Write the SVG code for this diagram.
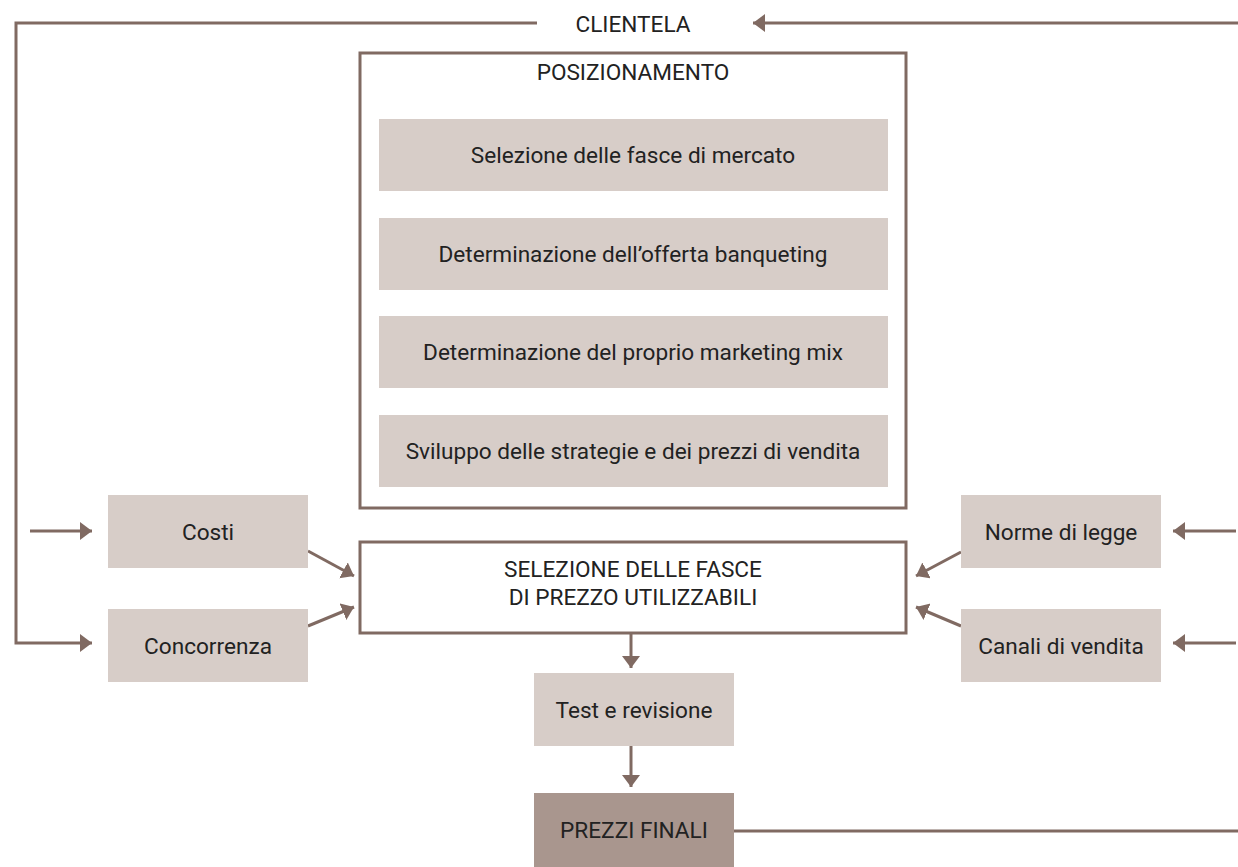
<svg xmlns="http://www.w3.org/2000/svg" width="1238" height="867" viewBox="0 0 1238 867">
<defs>
<style>
.t{font-family:Roboto,"Liberation Sans",sans-serif;font-size:22.6px;font-weight:400;fill:#222222;text-anchor:middle}
.lb{fill:#d7cdc8}
.dk{fill:#a9968e}
.fr{fill:#ffffff;stroke:#806a62;stroke-width:3}
.ln{fill:none;stroke:#806a62;stroke-width:3}
</style>
<marker id="ah" markerUnits="userSpaceOnUse" markerWidth="14" markerHeight="20" refX="12" refY="9" orient="auto">
<path d="M0,0 L12,9 L0,18 Z" fill="#806a62"/>
</marker>
</defs>
<rect width="1238" height="867" fill="#ffffff"/>

<g id="connectors">
<polyline class="ln" points="537,23 16,23 16,643 92,643" marker-end="url(#ah)"/>
<line class="ln" x1="1238" y1="23" x2="753" y2="23" marker-end="url(#ah)"/>
<line class="ln" x1="30" y1="531" x2="92" y2="531" marker-end="url(#ah)"/>
<line class="ln" x1="1236" y1="531" x2="1173" y2="531" marker-end="url(#ah)"/>
<line class="ln" x1="1236" y1="643" x2="1173" y2="643" marker-end="url(#ah)"/>
<line class="ln" x1="308" y1="551" x2="354" y2="576" marker-end="url(#ah)"/>
<line class="ln" x1="308" y1="626" x2="354" y2="607" marker-end="url(#ah)"/>
<line class="ln" x1="961" y1="552" x2="916" y2="576" marker-end="url(#ah)"/>
<line class="ln" x1="961" y1="626" x2="916" y2="607" marker-end="url(#ah)"/>
<line class="ln" x1="631" y1="634" x2="631" y2="668" marker-end="url(#ah)"/>
<line class="ln" x1="631" y1="746" x2="631" y2="787" marker-end="url(#ah)"/>
<line class="ln" x1="734" y1="831" x2="1238" y2="831"/>
</g>

<g id="clientela">
<text class="t" x="633" y="32">CLIENTELA</text>
</g>

<g id="posizionamento">
<rect class="fr" x="360" y="53" width="546" height="455"/>
<text class="t" x="633" y="80">POSIZIONAMENTO</text>
</g>
<g id="fasce-mercato">
<rect class="lb" x="379" y="119" width="509" height="72"/>
<text class="t" x="633" y="163">Selezione delle fasce di mercato</text>
</g>
<g id="offerta">
<rect class="lb" x="379" y="218" width="509" height="72"/>
<text class="t" x="633" y="262">Determinazione dell’offerta banqueting</text>
</g>
<g id="marketing-mix">
<rect class="lb" x="379" y="316" width="509" height="72"/>
<text class="t" x="633" y="360">Determinazione del proprio marketing mix</text>
</g>
<g id="strategie">
<rect class="lb" x="379" y="415" width="509" height="72"/>
<text class="t" x="633" y="459">Sviluppo delle strategie e dei prezzi di vendita</text>
</g>

<g id="selezione-prezzo">
<rect class="fr" x="360" y="542" width="546" height="91"/>
<text class="t" x="633" y="577">SELEZIONE DELLE FASCE</text>
<text class="t" x="633" y="605">DI PREZZO UTILIZZABILI</text>
</g>

<g id="costi">
<rect class="lb" x="108" y="495" width="200" height="73"/>
<text class="t" x="208" y="540">Costi</text>
</g>
<g id="concorrenza">
<rect class="lb" x="108" y="609" width="200" height="73"/>
<text class="t" x="208" y="654">Concorrenza</text>
</g>
<g id="norme">
<rect class="lb" x="961" y="495" width="200" height="73"/>
<text class="t" x="1061" y="540">Norme di legge</text>
</g>
<g id="canali">
<rect class="lb" x="961" y="609" width="200" height="73"/>
<text class="t" x="1061" y="654">Canali di vendita</text>
</g>

<g id="test">
<rect class="lb" x="534" y="673" width="200" height="73"/>
<text class="t" x="634" y="718">Test e revisione</text>
</g>
<g id="prezzi-finali">
<rect class="dk" x="534" y="793" width="200" height="74"/>
<text class="t" x="634" y="838">PREZZI FINALI</text>
</g>
</svg>
